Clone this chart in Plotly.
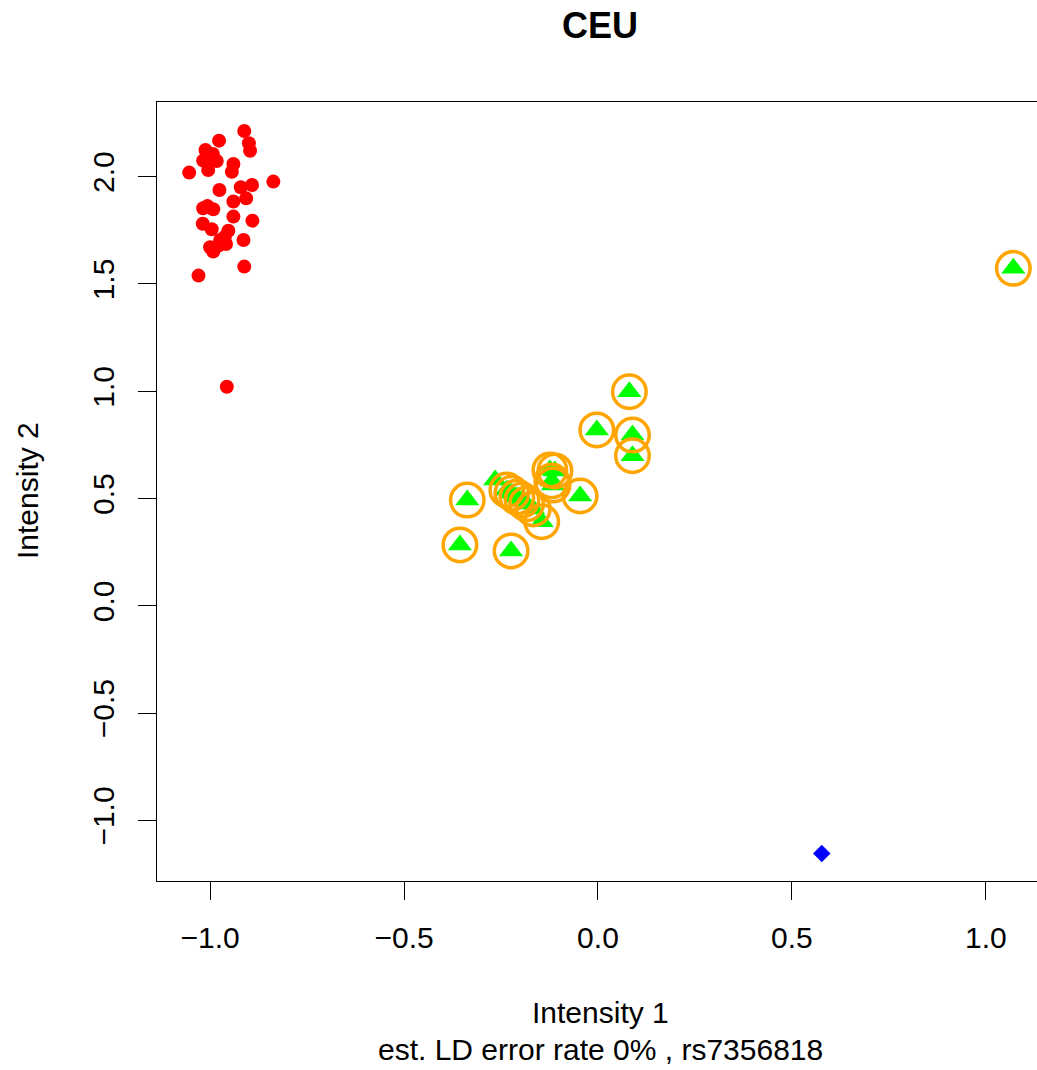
import plotly.graph_objects as go

# ---- data ----
red_x = [-0.912, -0.977, -0.900, -0.897, -1.012, -0.993, -1.018, -1.005, -0.983, -0.940,
         -1.054, -1.005, -0.944, -0.837, -0.976, -0.921, -0.892, -0.907, -0.940, -1.018,
         -1.007, -0.992, -0.940, -0.891, -1.019, -0.996, -0.953, -0.962, -0.914, -0.974,
         -1.000, -0.983, -0.959, -0.992, -0.912, -1.030, -0.957, -0.970, -0.978]
red_y = [2.213, 2.168, 2.156, 2.121, 2.124, 2.106, 2.075, 2.086, 2.073, 2.059,
         2.019, 2.031, 2.023, 1.977, 1.938, 1.951, 1.961, 1.899, 1.884, 1.853,
         1.863, 1.848, 1.814, 1.795, 1.781, 1.755, 1.748, 1.720, 1.705, 1.705,
         1.671, 1.674, 1.686, 1.651, 1.581, 1.539, 1.021, 1.700, 1.680]

green_x = [0.081, -0.003, 0.089, 0.089, -0.337, -0.356, -0.224, -0.046, -0.145, -0.124,
           -0.111, -0.119, -0.116, -0.235, -0.222, -0.209, -0.196, -0.184, -0.167, 1.071,
           -0.265]
green_y = [0.998, 0.820, 0.796, 0.700, 0.493, 0.284, 0.256, 0.512, 0.392, 0.633,
           0.629, 0.582, 0.563, 0.540, 0.525, 0.507, 0.493, 0.475, 0.452, 1.573,
           0.587]

circ_x = green_x[:20]
circ_y = green_y[:20]

blue_x = [0.577]
blue_y = [-1.154]

x_ticks = [-1.0, -0.5, 0.0, 0.5, 1.0]
x_tick_text = ["\u22121.0", "\u22120.5", "0.0", "0.5", "1.0"]
y_ticks = [-1.0, -0.5, 0.0, 0.5, 1.0, 1.5, 2.0]
y_tick_text = ["\u22121.0", "\u22120.5", "0.0", "0.5", "1.0", "1.5", "2.0"]

title = "CEU"
x_title = "Intensity 1"
y_title = "Intensity 2"
sub_title = "est. LD error rate 0% , rs7356818"

FONT = "Liberation Sans, Arial, Helvetica, sans-serif"

fig = go.Figure()
fig.add_trace(go.Scatter(x=red_x, y=red_y, mode="markers",
                         marker=dict(symbol="circle", size=14, color="#FF0000",
                                     line=dict(width=0))))
fig.add_trace(go.Scatter(x=green_x, y=green_y, mode="markers",
                         marker=dict(symbol="triangle-up", size=21, color="#00FF00",
                                     line=dict(width=0))))
fig.add_trace(go.Scatter(x=blue_x, y=blue_y, mode="markers",
                         marker=dict(symbol="diamond", size=13.5, color="#0000FF",
                                     line=dict(width=0))))
fig.add_trace(go.Scatter(x=circ_x, y=circ_y, mode="markers",
                         marker=dict(symbol="circle-open", size=33.5, color="#FFA500",
                                     line=dict(width=3.5, color="#FFA500"))))

L, R_, T, B = 157, 1037, 102, 881
W, H = 1037, 1070

fig.update_layout(
    width=W, height=H,
    margin=dict(l=L, r=W - R_, t=T, b=H - B, pad=0),
    paper_bgcolor="white", plot_bgcolor="white",
    showlegend=False,
    font=dict(family=FONT, size=30, color="black"),
    xaxis=dict(range=[-1.137, 1.132], tickvals=x_ticks, ticktext=x_tick_text,
               showgrid=False, zeroline=False, showline=True, linecolor="black",
               linewidth=1.3, mirror=True, ticks="outside", ticklen=18, tickwidth=1.3,
               tickcolor="black", tickfont=dict(size=30, family=FONT),
               ticklabelstandoff=12),
    yaxis=dict(range=[-1.282, 2.348], tickvals=y_ticks, ticktext=y_tick_text,
               showgrid=False, zeroline=False, showline=True, linecolor="black",
               linewidth=1.3, mirror=False, ticks="outside", ticklen=18, tickwidth=1.3,
               tickcolor="black", tickangle=-90, tickfont=dict(size=30, family=FONT),
               ticklabelstandoff=12),
)

pw, ph = R_ - L, B - T

def px_x(p):
    return (p - L) / pw

def px_y(p):
    return (B - p) / ph

fig.add_annotation(text="<b>" + title + "</b>", xref="paper", yref="paper",
                   x=px_x(600), y=px_y(26), xanchor="center", yanchor="middle",
                   showarrow=False, font=dict(size=36, family=FONT))
fig.add_annotation(text=x_title, xref="paper", yref="paper",
                   x=px_x(600), y=px_y(1012), xanchor="center", yanchor="middle",
                   showarrow=False, font=dict(size=30, family=FONT))
fig.add_annotation(text=sub_title, xref="paper", yref="paper",
                   x=px_x(600), y=px_y(1049), xanchor="center", yanchor="middle",
                   showarrow=False, font=dict(size=30, family=FONT))
fig.add_annotation(text=y_title, xref="paper", yref="paper",
                   x=px_x(27), y=px_y(491), xanchor="center", yanchor="middle",
                   textangle=-90, showarrow=False, font=dict(size=30, family=FONT))

fig.write_html("out.html")
